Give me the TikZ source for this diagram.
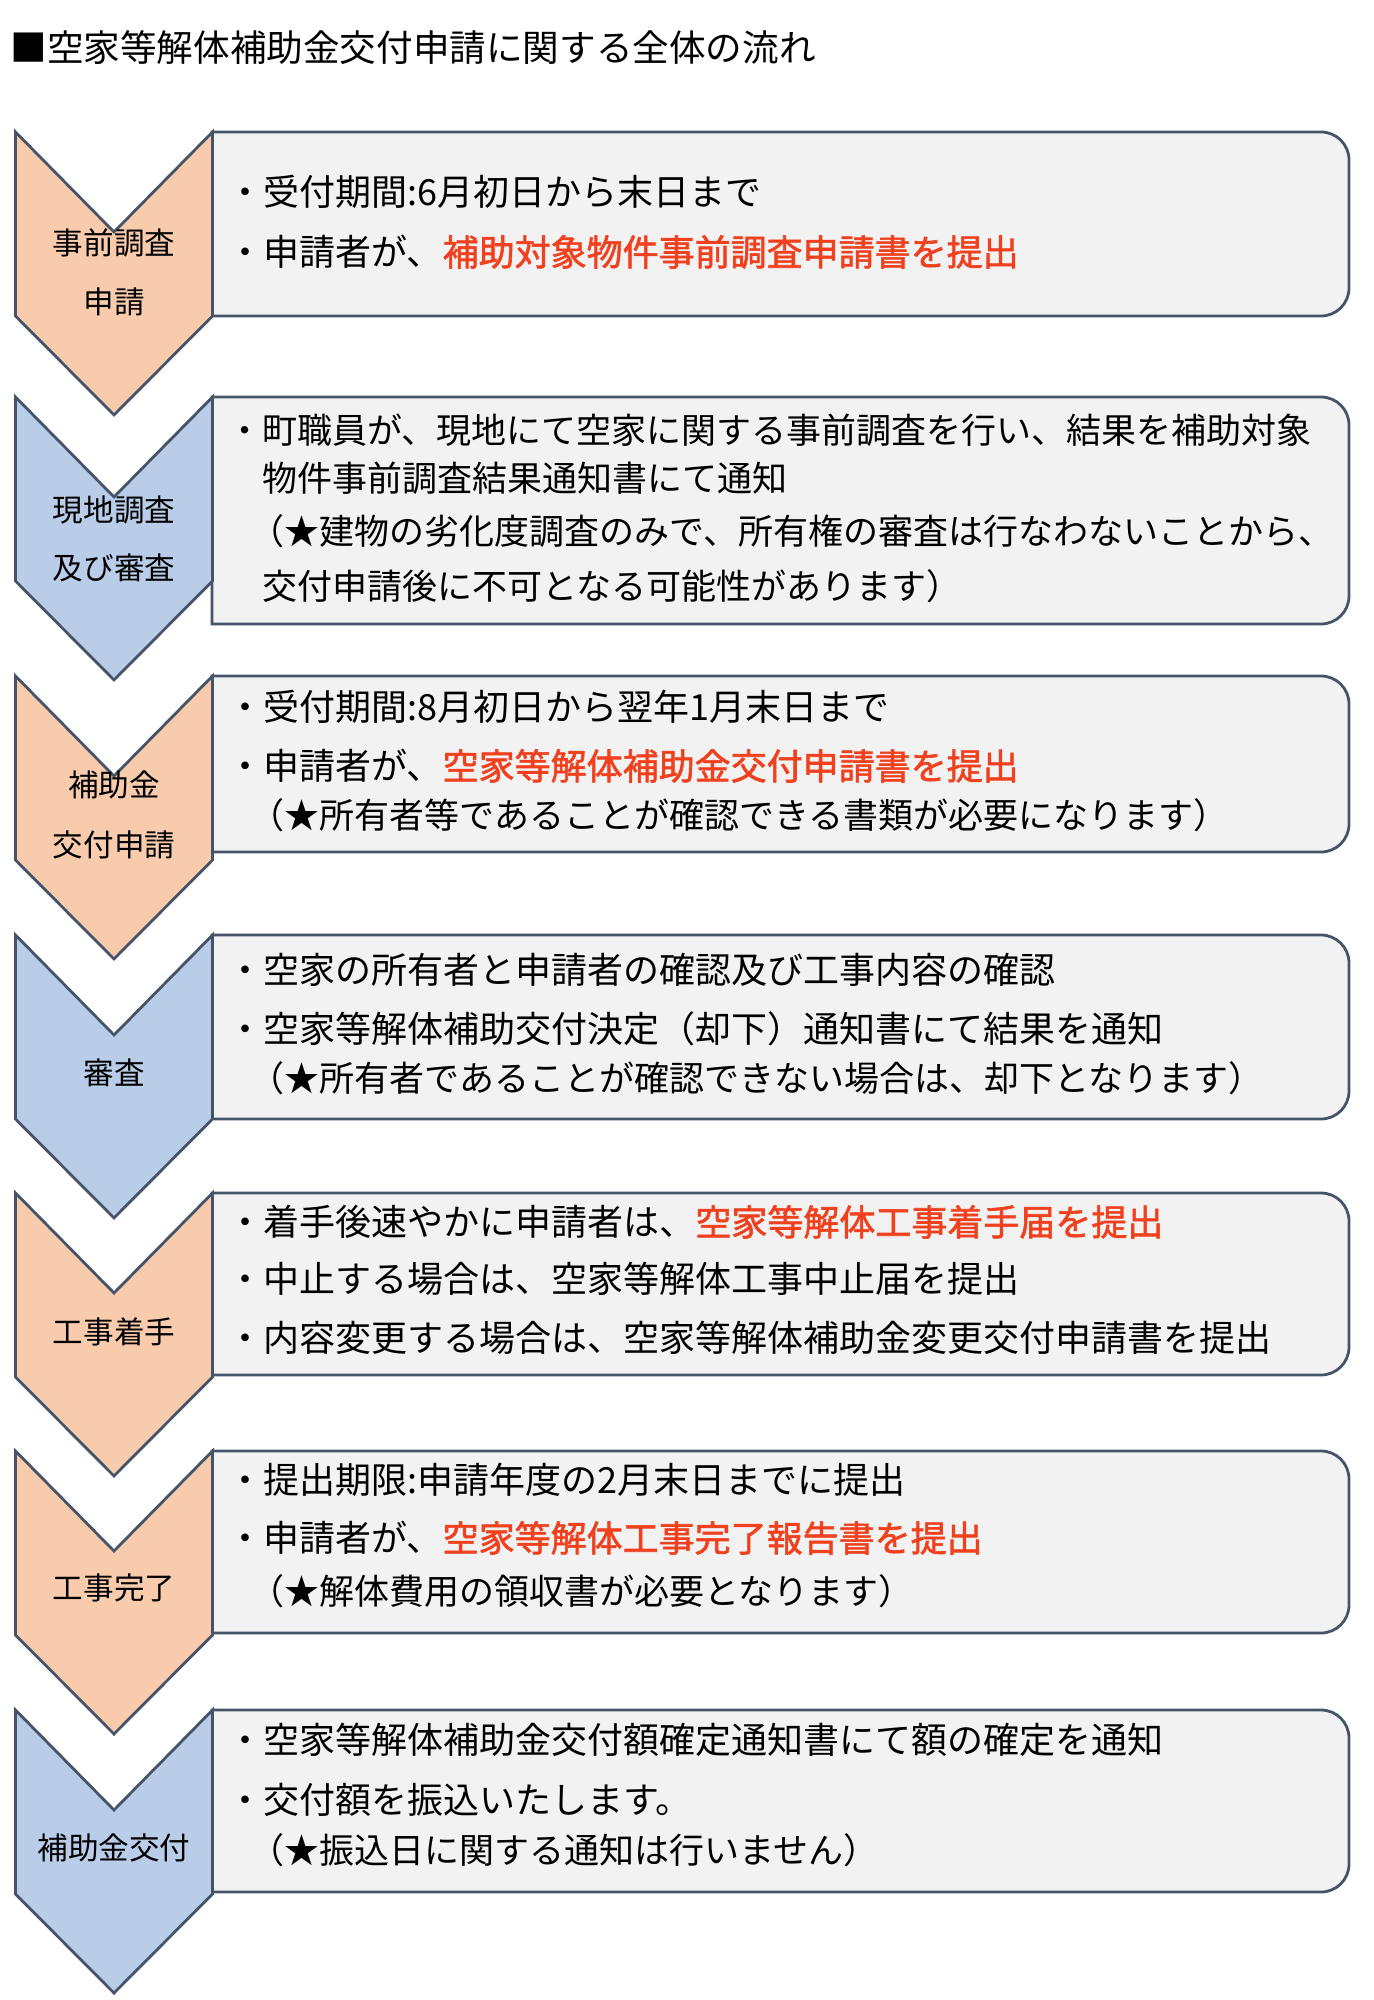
\documentclass[tikz,border=0pt]{standalone}
\usepackage{fontspec}
\setmainfont{Noto Sans CJK JP}
\newfontfamily\redfont{Noto Sans CJK JP}[FakeBold=1.6]
\usepackage{tikz}
\usetikzlibrary{positioning}
\definecolor{chevorange}{HTML}{F8CBAD}
\definecolor{chevblue}{HTML}{B9CDE8}
\definecolor{edgegray}{HTML}{46546A}
\definecolor{boxgray}{HTML}{F2F2F2}
\definecolor{hlred}{HTML}{F0401E}
\newcommand{\redpart}[1]{\textcolor{hlred}{\redfont #1}}
\tikzset{
  edge line/.style={draw=edgegray, line width=1.4pt, line join=miter},
  pics/chevron/.style={code={
    \draw[edge line, fill=#1] (-98.5,0) -- (0,100) -- (98.5,0) -- (98.5,184) -- (0,283) -- (-98.5,184) -- cycle;}},
  pics/infobox/.style={code={
    \draw[edge line, fill=boxgray] (0,0) -- (1109,0) arc[start angle=90, end angle=0, radius=14pt]
      -- (1137,#1-28) arc[start angle=0, end angle=-90, radius=14pt] -- (0,#1) -- cycle;}},
  steplabel/.style={font=\fontsize{15.3pt}{18pt}\selectfont, inner sep=0pt, text height=13.5pt, text depth=1.8pt},
  linetext/.style={anchor=west, inner sep=0pt, font=\fontsize{18pt}{22pt}\selectfont, text height=15.8pt, text depth=2.2pt},
  notetext/.style={linetext, font=\fontsize{17.5pt}{21pt}\selectfont},
}

\begin{document}
\begin{tikzpicture}[x=0.5pt,y=-0.5pt]
    \useasboundingbox (0,0) rectangle (1374,2000);

    \node[linetext, font=\fontsize{18.3pt}{22pt}\selectfont] (title) at (10,48) {■空家等解体補助金交付申請に関する全体の流れ};

    % boxes
    \pic (p1) at (212,132)  {infobox=184};
    \pic (p2) at (212,397)  {infobox=227};
    \pic (p3) at (212,676)  {infobox=176};
    \pic (p4) at (212,935)  {infobox=184};
    \pic (p5) at (212,1193) {infobox=182};
    \pic (p6) at (212,1451) {infobox=182};
    \pic (p7) at (212,1710) {infobox=182};

    % chevrons
    \pic (c1) at (114,132)  {chevron=chevorange};
    \pic (c2) at (114,397)  {chevron=chevblue};
    \pic (c3) at (114,676)  {chevron=chevorange};
    \pic (c4) at (114,935)  {chevron=chevblue};
    \pic (c5) at (114,1193) {chevron=chevorange};
    \pic (c6) at (114,1451) {chevron=chevorange};
    \pic (c7) at (114,1710) {chevron=chevblue};

    \node[steplabel] (l1a) at (114,243)  {事前調査};
    \node[steplabel] (l1b) at (114,302)  {申請};
    \node[steplabel] (l2a) at (114,510)  {現地調査};
    \node[steplabel] (l2b) at (114,568)  {及び審査};
    \node[steplabel] (l3a) at (114,785)  {補助金};
    \node[steplabel] (l3b) at (114,845)  {交付申請};
    \node[steplabel] (l4)  at (114,1073) {審査};
    \node[steplabel] (l5)  at (114,1332) {工事着手};
    \node[steplabel] (l6)  at (114,1588) {工事完了};
    \node[steplabel] (l7)  at (114,1848) {補助金交付};

    \node[linetext] (b1a) at (227,192) {・受付期間:6月初日から末日まで};
    \node[linetext] (b1b) at (227,252) {・申請者が、\redpart{補助対象物件事前調査申請書を提出}};

    \node[notetext] (b2a) at (227,430) {・町職員が、現地にて空家に関する事前調査を行い、結果を補助対象};
    \node[notetext] (b2b) at (262,478) {物件事前調査結果通知書にて通知};
    \node[notetext] (b2c) at (249,531) {（★建物の劣化度調査のみで、所有権の審査は行なわないことから、};
    \node[notetext] (b2d) at (262,586) {交付申請後に不可となる可能性があります）};

    \node[linetext] (b3a) at (227,707) {・受付期間:8月初日から翌年1月末日まで};
    \node[linetext] (b3b) at (227,766) {・申請者が、\redpart{空家等解体補助金交付申請書を提出}};
    \node[notetext] (b3c) at (249,815) {（★所有者等であることが確認できる書類が必要になります）};

    \node[linetext] (b4a) at (227,970)  {・空家の所有者と申請者の確認及び工事内容の確認};
    \node[linetext] (b4b) at (227,1029) {・空家等解体補助交付決定（却下）通知書にて結果を通知};
    \node[notetext] (b4c) at (249,1078) {（★所有者であることが確認できない場合は、却下となります）};

    \node[linetext] (b5a) at (227,1222) {・着手後速やかに申請者は、\redpart{空家等解体工事着手届を提出}};
    \node[linetext] (b5b) at (227,1279) {・中止する場合は、空家等解体工事中止届を提出};
    \node[linetext] (b5c) at (227,1338) {・内容変更する場合は、空家等解体補助金変更交付申請書を提出};

    \node[linetext] (b6a) at (227,1480) {・提出期限:申請年度の2月末日までに提出};
    \node[linetext] (b6b) at (227,1538) {・申請者が、\redpart{空家等解体工事完了報告書を提出}};
    \node[notetext] (b6c) at (249,1591) {（★解体費用の領収書が必要となります）};

    \node[linetext] (b7a) at (227,1740) {・空家等解体補助金交付額確定通知書にて額の確定を通知};
    \node[linetext] (b7b) at (227,1800) {・交付額を振込いたします。};
    \node[notetext] (b7c) at (249,1850) {（★振込日に関する通知は行いません）};
\end{tikzpicture}
\end{document}
